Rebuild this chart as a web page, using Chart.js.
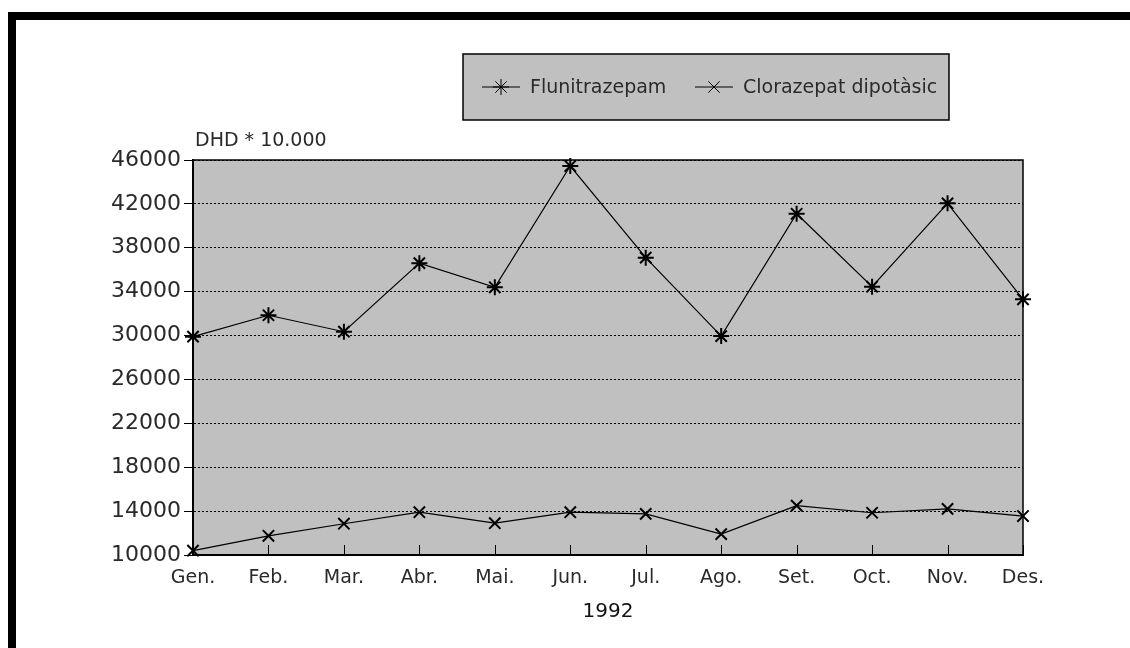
<!DOCTYPE html>
<html>
<head>
<meta charset="utf-8">
<script src="https://cdn.jsdelivr.net/npm/chart.js@4/dist/chart.umd.min.js"></script>
<style>
  html, body { margin: 0; padding: 0; background: #fff; }
  #wrap { width: 1130px; height: 648px; position: relative; }
</style>
</head>
<body>
<div id="wrap"><canvas id="chart" width="1130" height="648"></canvas></div>
<script>
const months = ['Gen.', 'Feb.', 'Mar.', 'Abr.', 'Mai.', 'Jun.', 'Jul.', 'Ago.', 'Set.', 'Oct.', 'Nov.', 'Des.'];
const flunitrazepam = [29900, 31850, 30350, 36600, 34400, 45450, 37100, 29950, 41100, 34450, 42050, 33300];
const clorazepat = [10400, 11750, 12850, 13900, 12900, 13900, 13750, 11900, 14500, 13850, 14200, 13550];
const seriesNames = ['Flunitrazepam', 'Clorazepat dipotàsic'];
const yTitle = 'DHD * 10.000';
const xTitle = '1992';

const FONT = '"DejaVu Sans", sans-serif';
const GREY = '#c0c0c0';

// marc negre de la pàgina + fons de l'àrea de dibuix
const framePlugin = {
    id: 'frame',
    beforeDraw(chart) {
        const ctx = chart.ctx;
        const a = chart.chartArea;
        ctx.save();
        ctx.fillStyle = '#000';
        ctx.fillRect(8, 12, 1122, 8);
        ctx.fillRect(8, 12, 8, 636);
        ctx.fillStyle = GREY;
        ctx.fillRect(a.left, a.top, a.right - a.left, a.bottom - a.top);
        ctx.restore();
    },
    afterDraw(chart) {
        const ctx = chart.ctx;
        const a = chart.chartArea;
        ctx.save();
        ctx.strokeStyle = '#000';
        ctx.lineWidth = 1.5;
        ctx.beginPath();
        ctx.moveTo(a.left, a.top);
        ctx.lineTo(a.right, a.top);
        ctx.lineTo(a.right, a.bottom);
        ctx.stroke();

        // marques de l'eix X cap a dins
        const x = chart.scales.x;
        ctx.lineWidth = 1;
        x.ticks.forEach((t, i) => {
            const px = Math.round(x.getPixelForTick(i)) + 0.5;
            ctx.beginPath();
            ctx.moveTo(px, a.bottom);
            ctx.lineTo(px, a.bottom - 10);
            ctx.stroke();
        });

        // títol de l'eix Y
        ctx.fillStyle = '#2a2a2a';
        ctx.font = '19px ' + FONT;
        ctx.textAlign = 'left';
        ctx.textBaseline = 'middle';
        ctx.fillText(yTitle, a.left + 2, a.top - 19);
        ctx.restore();
    }
};

// llegenda dins d'una caixa grisa
const legendBoxPlugin = {
    id: 'legendBox',
    afterDraw(chart) {
        const ctx = chart.ctx;
        const box = { x: 463, y: 54, w: 486, h: 66 };
        ctx.save();
        ctx.fillStyle = GREY;
        ctx.fillRect(box.x, box.y, box.w, box.h);
        ctx.strokeStyle = '#000';
        ctx.lineWidth = 1.5;
        ctx.strokeRect(box.x, box.y, box.w, box.h);

        const cy = box.y + box.h / 2;
        const starts = [482, 695];
        chart.data.datasets.forEach((ds, i) => {
            const x0 = starts[i];
            ctx.strokeStyle = '#000';
            ctx.lineWidth = 1;
            ctx.beginPath();
            ctx.moveTo(x0, cy);
            ctx.lineTo(x0 + 38, cy);
            ctx.stroke();
            Chart.helpers.drawPoint(ctx, {
                pointStyle: ds.pointStyle,
                radius: ds.pointRadius,
                rotation: 0,
                borderWidth: ds.pointBorderWidth
            }, x0 + 19, cy);
            ctx.fillStyle = '#2a2a2a';
            ctx.font = '19px ' + FONT;
            ctx.textAlign = 'left';
            ctx.textBaseline = 'middle';
            ctx.fillText(ds.label, x0 + 48, cy + 1);
        });
        ctx.restore();
    }
};

new Chart(document.getElementById('chart'), {
    type: 'line',
    data: {
        labels: months,
        datasets: [
            {
                label: seriesNames[0],
                data: flunitrazepam,
                borderColor: '#000',
                borderWidth: 1.2,
                pointStyle: 'star',
                pointRadius: 8,
                pointBorderWidth: 2,
                pointBorderColor: '#000',
                pointBackgroundColor: '#000',
                tension: 0,
                clip: false
            },
            {
                label: seriesNames[1],
                data: clorazepat,
                borderColor: '#000',
                borderWidth: 1.2,
                pointStyle: 'crossRot',
                pointRadius: 8,
                pointBorderWidth: 2,
                pointBorderColor: '#000',
                pointBackgroundColor: '#000',
                tension: 0,
                clip: false
            }
        ]
    },
    options: {
        responsive: false,
        animation: false,
        layout: { padding: { left: 0, top: 160, right: 107, bottom: 0 } },
        scales: {
            x: {
                offset: false,
                afterFit: s => { s.height = 93; },
                grid: { display: false, drawTicks: false },
                border: { display: true, color: '#000', width: 2 },
                ticks: { color: '#2a2a2a', font: { family: FONT, size: 19 }, padding: 12, maxRotation: 0, autoSkip: false },
                title: { display: true, text: xTitle, color: '#111', font: { family: FONT, size: 20 }, padding: { top: 0, bottom: 24 } }
            },
            y: {
                min: 10000,
                max: 46000,
                afterFit: s => { s.width = 193; },
                grid: {
                    color: '#000',
                    lineWidth: 1,
                    tickLength: 9,
                    tickColor: '#000',
                    tickBorderDash: [],
                    drawTicks: true
                },
                border: { display: true, color: '#000', width: 2, dash: [2, 2] },
                ticks: {
                    stepSize: 4000,
                    color: '#2a2a2a',
                    padding: 3,
                    font: { family: FONT, size: 22 },
                    callback: v => String(v)
                }
            }
        },
        plugins: {
            legend: { display: false },
            tooltip: { enabled: false }
        }
    },
    plugins: [framePlugin, legendBoxPlugin]
});
</script>
</body>
</html>
